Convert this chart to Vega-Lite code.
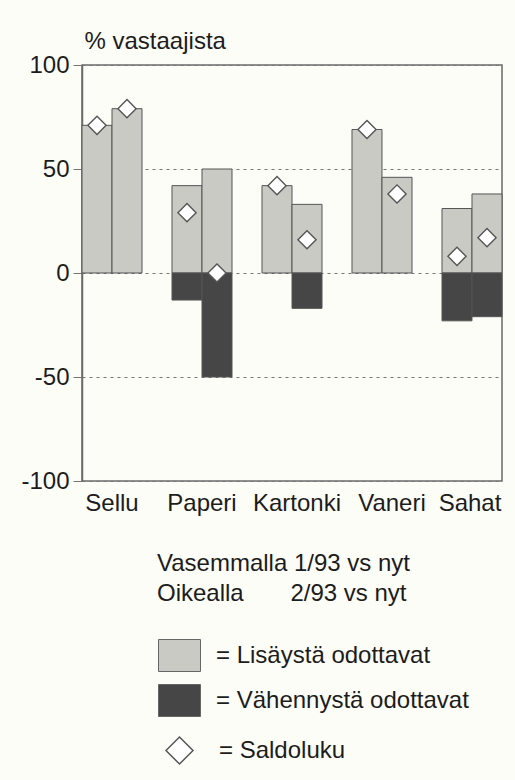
{
  "$schema": "https://vega.github.io/schema/vega-lite/v6.json",
  "width": 420,
  "height": 416,
  "autosize": "none",
  "padding": {"left": 82, "top": 65, "right": 13, "bottom": 299},
  "background": "#fdfdf8",
  "config": {
    "font": "Liberation Sans",
    "view": {"stroke": "#6a6a6a", "strokeWidth": 1.5}
  },
  "datasets": {
    "pylvaat": [
      {"ala": "Sellu", "jakso": "1/93", "ryhma": "= Lisäystä odottavat", "arvo": 71},
      {"ala": "Sellu", "jakso": "2/93", "ryhma": "= Lisäystä odottavat", "arvo": 79},
      {"ala": "Paperi", "jakso": "1/93", "ryhma": "= Lisäystä odottavat", "arvo": 42},
      {"ala": "Paperi", "jakso": "1/93", "ryhma": "= Vähennystä odottavat", "arvo": -13},
      {"ala": "Paperi", "jakso": "2/93", "ryhma": "= Lisäystä odottavat", "arvo": 50},
      {"ala": "Paperi", "jakso": "2/93", "ryhma": "= Vähennystä odottavat", "arvo": -50},
      {"ala": "Kartonki", "jakso": "1/93", "ryhma": "= Lisäystä odottavat", "arvo": 42},
      {"ala": "Kartonki", "jakso": "2/93", "ryhma": "= Lisäystä odottavat", "arvo": 33},
      {"ala": "Kartonki", "jakso": "2/93", "ryhma": "= Vähennystä odottavat", "arvo": -17},
      {"ala": "Vaneri", "jakso": "1/93", "ryhma": "= Lisäystä odottavat", "arvo": 69},
      {"ala": "Vaneri", "jakso": "2/93", "ryhma": "= Lisäystä odottavat", "arvo": 46},
      {"ala": "Sahat", "jakso": "1/93", "ryhma": "= Lisäystä odottavat", "arvo": 31},
      {"ala": "Sahat", "jakso": "1/93", "ryhma": "= Vähennystä odottavat", "arvo": -23},
      {"ala": "Sahat", "jakso": "2/93", "ryhma": "= Lisäystä odottavat", "arvo": 38},
      {"ala": "Sahat", "jakso": "2/93", "ryhma": "= Vähennystä odottavat", "arvo": -21}
    ],
    "saldot": [
      {"ala": "Sellu", "jakso": "1/93", "saldo": 71},
      {"ala": "Sellu", "jakso": "2/93", "saldo": 79},
      {"ala": "Paperi", "jakso": "1/93", "saldo": 29},
      {"ala": "Paperi", "jakso": "2/93", "saldo": 0},
      {"ala": "Kartonki", "jakso": "1/93", "saldo": 42},
      {"ala": "Kartonki", "jakso": "2/93", "saldo": 16},
      {"ala": "Vaneri", "jakso": "1/93", "saldo": 69},
      {"ala": "Vaneri", "jakso": "2/93", "saldo": 38},
      {"ala": "Sahat", "jakso": "1/93", "saldo": 8},
      {"ala": "Sahat", "jakso": "2/93", "saldo": 17}
    ]
  },
  "layer": [
    {
      "data": {"name": "pylvaat"},
      "mark": {"type": "bar", "stroke": "#555555", "strokeWidth": 1},
      "encoding": {
        "x": {
          "field": "ala", "type": "nominal",
          "sort": ["Sellu", "Paperi", "Kartonki", "Vaneri", "Sahat"],
          "scale": {"paddingInner": 0.33333, "paddingOuter": 0},
          "axis": {"title": null, "ticks": false, "domain": false, "labelAngle": 0,
                   "labelFontSize": 24, "labelColor": "#1c1c1c", "labelPadding": 10,
                   "labelOffset": {"condition": [
                     {"test": "datum.value === 'Vaneri'", "value": 10},
                     {"test": "datum.value === 'Kartonki'", "value": 5},
                     {"test": "datum.value === 'Sahat'", "value": -2}
                   ], "value": 0}}
        },
        "xOffset": {"field": "jakso", "type": "nominal", "scale": {"paddingInner": 0, "paddingOuter": 0}},
        "y": {
          "field": "arvo", "type": "quantitative", "stack": null,
          "scale": {"domain": [-100, 100], "nice": false},
          "axis": {
            "values": [-100, -50, 0, 50, 100],
            "labelExpr": "replace(datum.label, '\u2212', '-')",
            "title": "% vastaajista", "titleAngle": 0, "titleAlign": "left",
            "titleBaseline": "alphabetic", "titleX": 2, "titleY": -17,
            "titleFontSize": 24, "titleFontWeight": "normal", "titleColor": "#1c1c1c",
            "labelFontSize": 24, "labelColor": "#1c1c1c", "labelPadding": 4,
            "tickSize": 9, "tickColor": "#777777", "domainColor": "#6a6a6a", "domainWidth": 1.5,
            "grid": true, "gridColor": "#777777", "gridDash": [3, 4], "gridWidth": 1
          }
        },
        "fill": {
          "field": "ryhma", "type": "nominal",
          "scale": {"domain": ["= Lisäystä odottavat", "= Vähennystä odottavat"], "range": ["#c8cac3", "#464646"]},
          "legend": {
            "orient": "none", "legendX": 75, "legendY": 487, "padding": 0,
            "title": ["Vasemmalla 1/93 vs nyt", "Oikealla\u00a0\u00a0\u00a0\u00a0\u00a0\u00a0\u00a02/93 vs nyt"],
            "titleFontSize": 24, "titleFontWeight": "normal", "titleColor": "#1c1c1c",
            "titleBaseline": "top", "titleLineHeight": 30, "titlePadding": 33, "titleLimit": 420,
            "labelFontSize": 24, "labelColor": "#1c1c1c", "labelLimit": 420, "labelOffset": 26,
            "symbolType": "M-0.9375,-1H1.6875V1H-0.9375Z", "symbolSize": 1024,
            "symbolStrokeColor": "#666666", "symbolStrokeWidth": 1, "rowPadding": 8
          }
        }
      }
    },
    {
      "data": {"name": "saldot"},
      "mark": {"type": "point", "filled": false, "fill": "white", "fillOpacity": 1, "stroke": "#555555", "strokeWidth": 1.4, "size": 330, "opacity": 1},
      "encoding": {
        "x": {"field": "ala", "type": "nominal", "sort": ["Sellu", "Paperi", "Kartonki", "Vaneri", "Sahat"]},
        "xOffset": {"field": "jakso", "type": "nominal"},
        "y": {"field": "saldo", "type": "quantitative"},
        "shape": {
          "datum": "= Saldoluku",
          "scale": {"range": ["diamond"]},
          "legend": {
            "orient": "none", "legendX": 83, "legendY": 671, "padding": 0, "title": null,
            "labelFontSize": 24, "labelColor": "#1c1c1c", "labelOffset": 25,
            "symbolSize": 729, "symbolType": "diamond",
            "encode": {"symbols": {"update": {
              "stroke": {"value": "#444444"}, "strokeWidth": {"value": 1.6},
              "strokeOpacity": {"value": 1}, "opacity": {"value": 1},
              "fill": {"value": "#ffffff"}, "fillOpacity": {"value": 1}
            }}}
          }
        }
      }
    }
  ]
}
